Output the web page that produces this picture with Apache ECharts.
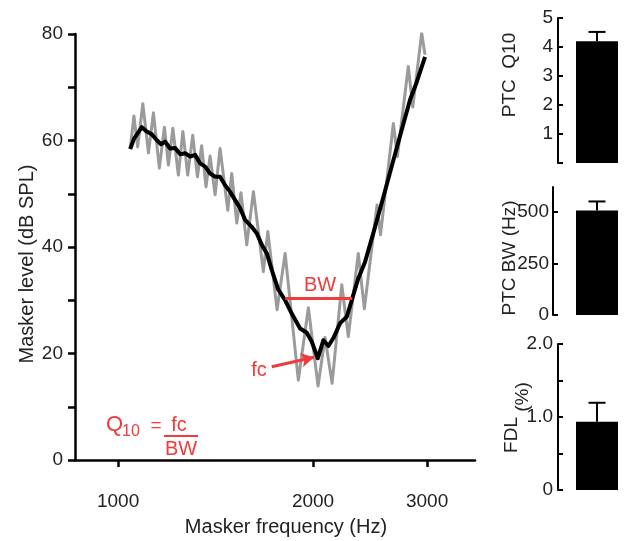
<!DOCTYPE html>
<html><head><meta charset="utf-8">
<script src="https://cdn.jsdelivr.net/npm/echarts@6/dist/echarts.min.js"></script>
<style>html,body{margin:0;padding:0;background:#fff}#c{width:627px;height:541px}</style>
</head><body><div id="c"></div>
<script>
// ---- data ----
const grayFreq = [1044,1058,1072,1092,1114,1134,1158,1179,1196,1215,1239,1259,1281,1304,1326,1346,1367,1387,1412,1437,1477,1498,1525,1548,1580,1618,1676,1703,1760,1811,1898,1967,2036,2087,2140,2215,2267,2349,2400,2511,2542,2661,2699,2806,2851,2943,2978];
const grayLevel = [58.4,64.6,58.8,66.9,57.7,65.2,54.8,62.5,55.4,62.3,53.5,61.7,53.5,61.0,53.2,59.0,51.3,57.1,49.8,58.5,46.9,53.8,44.5,50.2,40.4,50.4,35.4,42.9,28.2,38.8,15.0,28.6,13.9,23.0,14.4,32.9,23.2,38.8,28.4,47.9,42.3,63.2,57.0,73.9,66.3,80.2,76.1];
const blackFreq = [1044,1058,1088,1107,1127,1147,1165,1182,1203,1225,1247,1269,1292,1315,1339,1363,1387,1412,1437,1463,1489,1516,1543,1571,1608,1637,1667,1697,1727,1766,1811,1854,1910,1956,1991,2034,2075,2112,2150,2202,2255,2300,2349,2406,2478,2568,2661,2741,2823,2892,2978];
const blackLevel = [58.4,60.3,62.5,61.7,61.2,60.1,59.3,59.8,58.5,58.6,57.4,57.6,57.0,57.3,55.7,55.1,53.8,53.2,53.2,51.6,50.4,48.8,47.3,45.1,43.8,42.6,40.4,38.8,35.7,32.1,30.0,27.5,24.7,23.9,22.2,19.1,22.5,21.4,22.9,25.7,26.9,30.4,34.1,37.2,42.6,49.4,56.3,62.0,67.6,71.0,75.7];
const xTicks = [1000, 2000, 3000];
const bwFreqs = [1811, 2300];
const bwLevel = 30.4;
const arrowStart = [1727, 17.5];
const arrowEnd = [2007, 19.3];

const barTitles = ['PTC  Q10', 'PTC BW (Hz)', 'FDL'];
const barMeans = [4.2, 506, 0.935];
const barErrors = [0.32, 44, 0.26];
const q10Ticks = [0, 1, 2, 3, 4, 5];
const bwTicks = [0, 250, 500];
const fdlTicks = [0, 0.5, 1.0, 1.5, 2.0];

// ---- style ----
const FONT = '"Liberation Sans", Arial, Helvetica, sans-serif';
const TXT = '#222';
const RED = '#ef3b3b';

function zip(a, b) { return a.map((v, i) => [v, b[i]]); }

function errRender(params, api) {
  const m = api.value(1), e = api.value(2);
  const p0 = api.coord([api.value(0), m]);
  const p1 = api.coord([api.value(0), m + e]);
  const st = { stroke: '#000', lineWidth: 2 };
  return { type: 'group', children: [
    { type: 'line', shape: { x1: p0[0], y1: p0[1], x2: p1[0], y2: p1[1] }, style: st },
    { type: 'line', shape: { x1: p1[0] - 8.5, y1: p1[1], x2: p1[0] + 8.5, y2: p1[1] }, style: st }
  ]};
}

const smallAxisLine = { show: true, lineStyle: { color: '#000', width: 2 } };
const smallTick = { show: true, inside: true, length: 5, lineStyle: { color: '#000', width: 2 } };
const smallLabel = { fontSize: 19, color: TXT, fontFamily: FONT };

function txt(text, x, y, size, color, rot, align) {
  return { type: 'text', x: x, y: y, rotation: rot || 0, silent: true,
    style: { text: text, fontSize: size, fontFamily: FONT, fill: color,
      align: align || 'center', verticalAlign: 'middle' } };
}

const chart = echarts.init(document.getElementById('c'), null, { renderer: 'canvas' });
chart.setOption({
  animation: false,
  backgroundColor: '#fff',
  grid: [
    { left: 75, top: 34, width: 400, height: 426, containLabel: false, outerBoundsMode: 'none' },
    { left: 558, top: 18, width: 78, height: 145, containLabel: false, outerBoundsMode: 'none' },
    { left: 553, top: 187, width: 88, height: 128, containLabel: false, outerBoundsMode: 'none' },
    { left: 558, top: 344, width: 78, height: 146, containLabel: false, outerBoundsMode: 'none' }
  ],
  xAxis: [
    { gridIndex: 0, type: 'log', logBase: 10, min: 858, max: 3557, offset: 22,
      axisLine: { show: true, lineStyle: { color: '#000', width: 2.5 } },
      axisTick: { show: true, customValues: xTicks, length: 7, lineStyle: { color: '#000', width: 2.5 } },
      axisLabel: { customValues: xTicks, margin: 10, fontSize: 19, color: TXT, fontFamily: FONT,
        formatter: v => String(Math.round(v)) },
      splitLine: { show: false }, minorTick: { show: false }, minorSplitLine: { show: false } },
    { gridIndex: 1, type: 'category', data: ['a'], show: false },
    { gridIndex: 2, type: 'category', data: ['a'], show: false },
    { gridIndex: 3, type: 'category', data: ['a'], show: false }
  ],
  yAxis: [
    { gridIndex: 0, type: 'value', min: 0, max: 80, interval: 10,
      axisLine: { show: true, lineStyle: { color: '#000', width: 2.5 } },
      axisTick: { show: true, length: 7, lineStyle: { color: '#000', width: 2.5 } },
      axisLabel: { margin: 12, fontSize: 19, color: TXT, fontFamily: FONT,
        formatter: v => (v % 20 === 0 ? String(v) : '') },
      splitLine: { show: false } },
    { gridIndex: 1, type: 'value', min: 0, max: 5,
      axisLine: smallAxisLine,
      axisTick: Object.assign({ customValues: q10Ticks }, smallTick),
      axisLabel: Object.assign({ customValues: q10Ticks.slice(1), margin: 5, formatter: v => String(v) }, smallLabel),
      splitLine: { show: false } },
    { gridIndex: 2, type: 'value', min: 0, max: 620,
      axisLine: smallAxisLine,
      axisTick: Object.assign({ customValues: bwTicks }, smallTick),
      axisLabel: Object.assign({ customValues: bwTicks, margin: 4, formatter: v => String(v) }, smallLabel),
      splitLine: { show: false } },
    { gridIndex: 3, type: 'value', min: 0, max: 2,
      axisLine: smallAxisLine,
      axisTick: Object.assign({ customValues: fdlTicks }, smallTick),
      axisLabel: Object.assign({ customValues: [0, 1, 2], margin: 5,
        formatter: v => (v === 0 ? '0' : v.toFixed(1)) }, smallLabel),
      splitLine: { show: false } }
  ],
  series: [
    { type: 'line', xAxisIndex: 0, yAxisIndex: 0, data: zip(grayFreq, grayLevel),
      symbol: 'none', silent: true, z: 2,
      lineStyle: { color: '#9b9b9b', width: 3, join: 'round' } },
    { type: 'line', xAxisIndex: 0, yAxisIndex: 0, data: zip(blackFreq, blackLevel),
      symbol: 'none', silent: true, z: 3,
      lineStyle: { color: '#000', width: 4, join: 'round' },
      markLine: { silent: true, animation: false, symbol: ['none', 'none'],
        label: { show: false }, emphasis: { disabled: true },
        lineStyle: { color: RED, width: 3, type: 'solid' },
        data: [
          [{ coord: [bwFreqs[0], bwLevel] }, { coord: [bwFreqs[1], bwLevel] }],
          [{ coord: arrowStart, symbol: 'none' }, { coord: arrowEnd, symbol: 'arrow', symbolSize: [11, 13] }]
        ] } },
    { type: 'bar', xAxisIndex: 1, yAxisIndex: 1, data: [barMeans[0]], barWidth: 42, silent: true, itemStyle: { color: '#000' } },
    { type: 'bar', xAxisIndex: 2, yAxisIndex: 2, data: [barMeans[1]], barWidth: 42, silent: true, itemStyle: { color: '#000' } },
    { type: 'bar', xAxisIndex: 3, yAxisIndex: 3, data: [barMeans[2]], barWidth: 42, silent: true, itemStyle: { color: '#000' } },
    { type: 'custom', xAxisIndex: 1, yAxisIndex: 1, renderItem: errRender, data: [[0, barMeans[0], barErrors[0]]], silent: true, z: 3 },
    { type: 'custom', xAxisIndex: 2, yAxisIndex: 2, renderItem: errRender, data: [[0, barMeans[1], barErrors[1]]], silent: true, z: 3 },
    { type: 'custom', xAxisIndex: 3, yAxisIndex: 3, renderItem: errRender, data: [[0, barMeans[2], barErrors[2]]], silent: true, z: 3 }
  ],
  graphic: [
    txt('Masker level (dB SPL)', 27, 264, 20, TXT, Math.PI / 2),
    txt('Masker frequency (Hz)', 286, 527, 20, TXT, 0),
    txt(barTitles[0], 510, 75, 19, TXT, Math.PI / 2),
    txt(barTitles[1], 510, 258, 19, TXT, Math.PI / 2),
    txt(barTitles[2], 512, 435, 19, TXT, Math.PI / 2),
    txt('(%)', 523, 397, 19, TXT, Math.PI / 2),
    txt('BW', 320, 285, 20, RED, 0),
    txt('fc', 259, 370, 20, RED, 0),
    txt('Q', 106, 425, 22, RED, 0, 'left'),
    txt('10', 122, 432, 16, RED, 0, 'left'),
    txt('=', 156, 426, 19, RED, 0),
    txt('fc', 179, 425, 20, RED, 0),
    { type: 'line', silent: true, shape: { x1: 164, y1: 436, x2: 198, y2: 436 }, style: { stroke: RED, lineWidth: 2 } },
    txt('BW', 181, 449, 20, RED, 0)
  ]
});
</script>
</body></html>
